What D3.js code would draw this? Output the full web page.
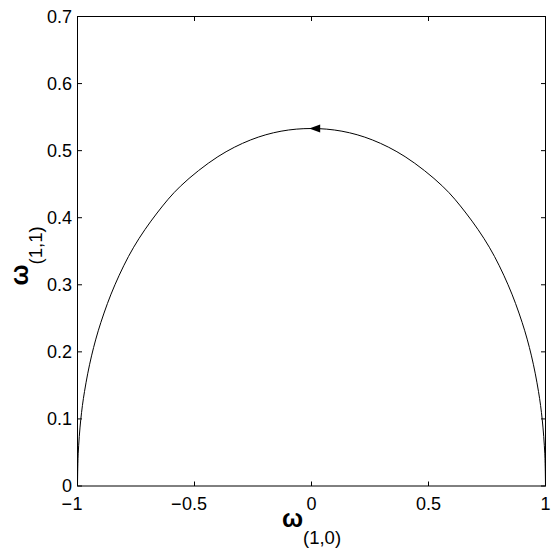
<!DOCTYPE html>
<html>
<head>
<meta charset="utf-8">
<script src="https://cdn.jsdelivr.net/npm/d3@7"></script>
<style>
  html, body { margin: 0; padding: 0; background: #fff; }
  svg { display: block; }
  text { font-family: "Liberation Sans", Arial, Helvetica, sans-serif; fill: #000; }
</style>
</head>
<body>
<svg id="chart" width="554" height="554"></svg>
<script>
// ---- data ----
const curveX = [-1, -0.997, -0.986, -0.97, -0.94, -0.9, -0.84, -0.76, -0.66, -0.56, -0.40, -0.26, -0.13, 0,
                 0.13, 0.26, 0.40, 0.56, 0.66, 0.76, 0.84, 0.9, 0.94, 0.97, 0.986, 0.997, 1];
const curveY = [0, 0.048, 0.099, 0.141, 0.194, 0.244, 0.300, 0.356, 0.407, 0.447, 0.491, 0.516, 0.529, 0.533,
                0.529, 0.516, 0.491, 0.447, 0.407, 0.356, 0.300, 0.244, 0.194, 0.141, 0.099, 0.048, 0];
const arrowTip = [-0.01, 0.533];           // arrow head on the curve, pointing left
const xTicks = [-1, -0.5, 0, 0.5, 1];
const yTicks = [0, 0.1, 0.2, 0.3, 0.4, 0.5, 0.6, 0.7];
const xDomain = [-1, 1];
const yDomain = [0, 0.7];

// ---- layout ----
const svg = d3.select("#chart");
const L = 77.5, R = 545.5, T = 16.5, B = 486;
const x = d3.scaleLinear().domain(xDomain).range([L, R]);
const y = d3.scaleLinear().domain(yDomain).range([B, T]);

svg.append("rect").attr("width", 554).attr("height", 554).attr("fill", "#fff");

// curve
const pts = curveX.map((v, i) => [v, curveY[i]]);
const line = d3.line().x(d => x(d[0])).y(d => y(d[1])).curve(d3.curveCatmullRom.alpha(0.5));
svg.append("path").attr("d", line(pts)).attr("fill", "none").attr("stroke", "#000").attr("stroke-width", 1);

// arrow head
const ax = x(arrowTip[0]), ay = y(arrowTip[1]);
svg.append("path")
  .attr("d", `M${ax},${ay} L${ax + 11},${ay - 4} L${ax + 11},${ay + 4} Z`)
  .attr("fill", "#000");

// box
svg.append("rect").attr("x", L).attr("y", T).attr("width", R - L).attr("height", B - T)
  .attr("fill", "none").attr("stroke", "#000").attr("stroke-width", 1);

// ticks (inside, on all four sides)
const tl = 4.5;
const g = svg.append("g").attr("stroke", "#000").attr("stroke-width", 1);
xTicks.forEach(t => {
  g.append("line").attr("x1", x(t)).attr("x2", x(t)).attr("y1", B).attr("y2", B - tl);
  g.append("line").attr("x1", x(t)).attr("x2", x(t)).attr("y1", T).attr("y2", T + tl);
});
yTicks.forEach(t => {
  g.append("line").attr("x1", L).attr("x2", L + tl).attr("y1", y(t)).attr("y2", y(t));
  g.append("line").attr("x1", R).attr("x2", R - tl).attr("y1", y(t)).attr("y2", y(t));
});

// tick labels
const fs = 18;
xTicks.forEach(t => {
  const num = String(Math.abs(t));
  const tx = svg.append("text").attr("x", x(t)).attr("y", 510)
    .attr("text-anchor", "middle").attr("font-size", fs).text(num);
  if (t < 0) {
    const w = tx.node().getComputedTextLength();
    svg.append("text").attr("x", x(t) - w / 2 - 0.5).attr("y", 510)
      .attr("text-anchor", "end").attr("font-size", fs).text("\u2212");
  }
});
yTicks.forEach(t => {
  svg.append("text").attr("x", 72).attr("y", y(t)).attr("dy", "0.36em")
    .attr("text-anchor", "end").attr("font-size", fs).text(String(t));
});

// axis labels
const xl = svg.append("text").attr("x", (L + R) / 2).attr("y", 527).attr("text-anchor", "middle");
xl.append("tspan").attr("font-size", 25).attr("font-weight", "bold").text("\u03c9");
xl.append("tspan").attr("font-size", 18.5).attr("dy", 17).text("(1,0)");

const yl = svg.append("text").attr("transform", "translate(28,256) rotate(-90)").attr("text-anchor", "middle");
yl.append("tspan").attr("font-size", 25).attr("font-weight", "bold").text("\u03c9");
yl.append("tspan").attr("font-size", 18.5).attr("dy", 14).text("(1,1)");
</script>
</body>
</html>
